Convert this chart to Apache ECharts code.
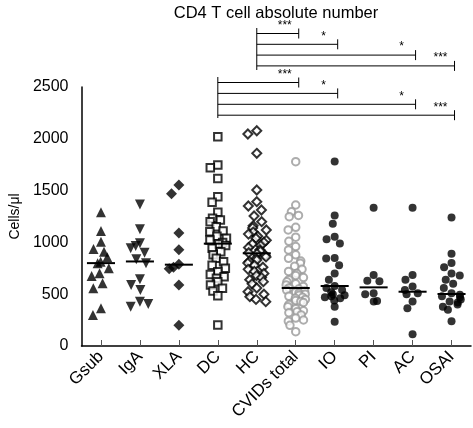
<!DOCTYPE html>
<html><head><meta charset="utf-8">
<script src="https://cdn.jsdelivr.net/npm/echarts@6/dist/echarts.min.js"></script>
<style>html,body{margin:0;padding:0;background:#fff}#c{width:473px;height:428px}</style>
</head><body><div id="c"></div>
<script>
const categories = ['Gsub','IgA','XLA','DC','HC','CVIDs total','IO','PI','AC','OSAI'];
const yTicks = [0, 500, 1000, 1500, 2000, 2500];

const gsub = [1290, 1110, 1007, 936, 910, 856, 814, 798, 750, 702, 676, 605, 557, 364, 299];
const iga = [1367, 1126, 991, 965, 943, 900, 837, 798, 644, 589, 541, 428, 405, 380];
const xla = [1555, 1470, 1090, 930, 790, 760, 745, 590, 200];
const dc = [2020, 1747, 1721, 1618, 1441, 1387, 1290, 1232, 1216, 1200, 1150, 1110, 1103, 1060, 1040, 1023, 1000, 985, 970, 943, 910, 880, 846, 814, 780, 750, 717, 690, 669, 653, 620, 589, 557, 530, 486, 203];
const hc = [2078, 2046, 1860, 1506, 1393, 1351, 1313, 1255, 1200, 1160, 1140, 1120, 1100, 1080, 1060, 1040, 1020, 1000, 985, 970, 950, 930, 915, 900, 890, 875, 860, 845, 830, 815, 800, 780, 760, 740, 720, 700, 680, 660, 640, 621, 600, 560, 524, 500, 476, 450, 428];
const cvids = [1779, 1361, 1296, 1260, 1248, 1146, 1120, 1050, 1010, 960, 927, 880, 846, 820, 798, 770, 740, 720, 700, 680, 660, 640, 620, 600, 590, 575, 560, 550, 540, 530, 520, 510, 500, 490, 480, 470, 460, 450, 440, 430, 420, 400, 380, 360, 340, 331, 320, 300, 270, 251, 240, 200, 138];
const io = [1780, 1260, 1180, 1055, 1030, 990, 850, 845, 780, 700, 640, 580, 560, 540, 520, 500, 490, 480, 470, 460, 440, 380, 235];
const pi = [1335, 685, 630, 625, 510, 500, 435, 430];
const ac = [1335, 685, 640, 575, 540, 510, 500, 430, 365, 113];
const osai = [1240, 890, 800, 760, 700, 680, 640, 600, 560, 510, 495, 480, 470, 450, 430, 420, 400, 380, 350, 240];
const medians = [800, 816, 785, 988, 895, 560, 579, 566, 524, 502];

// significance brackets: [fromCategory, toCategory, label]
const bracketsTop = [['HC','CVIDs total','***'], ['HC','IO','*'], ['HC','AC','*'], ['HC','OSAI','***']];
const bracketsLow = [['DC','CVIDs total','***'], ['DC','IO','*'], ['DC','AC','*'], ['DC','OSAI','***']];

const FONT = 'Liberation Sans, Arial, sans-serif';
const groups = [
  {name:'Gsub', d:gsub, symbol:'triangle', size:10, style:{color:'#000'}},
  {name:'IgA', d:iga, symbol:'triangle', rot:180, size:10, style:{color:'#000'}},
  {name:'XLA', d:xla, symbol:'diamond', size:11, style:{color:'#000'}},
  {name:'DC', d:dc, symbol:'rect', size:7.5, style:{color:'#fff', borderColor:'#000', borderWidth:2}},
  {name:'HC', d:hc, symbol:'diamond', size:9, style:{color:'#fff', borderColor:'#000', borderWidth:2}},
  {name:'CVIDs total', d:cvids, symbol:'circle', size:7.5, style:{color:'#fff', borderColor:'#999', borderWidth:2}},
  {name:'IO', d:io, symbol:'circle', size:8, style:{color:'#000'}},
  {name:'PI', d:pi, symbol:'circle', size:8, style:{color:'#000'}},
  {name:'AC', d:ac, symbol:'circle', size:8, style:{color:'#000'}},
  {name:'OSAI', d:osai, symbol:'circle', size:8, style:{color:'#000'}}
];

const series = groups.map(g => ({
  type:'scatter', name:g.name,
  data: g.d.map(v => [g.name, v]),
  symbol:g.symbol, symbolSize:g.size, symbolRotate:g.rot || 0,
  itemStyle:g.style, z:2, silent:true, animation:false
}));
series.push({
  type:'custom', name:'median', z:5, silent:true, animation:false,
  data: medians.map((m,i)=>[categories[i], m]),
  renderItem:(params, api)=>{
    const p = api.coord([api.value(0), api.value(1)]);
    const w = api.size([1,0])[0]*0.72;
    return {type:'line', shape:{x1:p[0]-w/2, y1:p[1], x2:p[0]+w/2, y2:p[1]}, style:{stroke:'#000', lineWidth:2}};
  }
});

const chart = echarts.init(document.getElementById('c'), null, {renderer:'canvas'});
chart.setOption({
  animation:false,
  backgroundColor:'#fff',
  title:{text:'CD4 T cell absolute number', left:271, top:0, textAlign:'center',
    textStyle:{fontFamily:FONT, fontSize:16.5, fontWeight:'normal', color:'#000'}},
  grid:{left:77, right:2, top:87, bottom:82, containLabel:false},
  xAxis:{type:'category', data:categories, boundaryGap:true,
    jitter:20, jitterOverlap:false, jitterMargin:0.5,
    axisLine:{lineStyle:{color:'#000', width:1.5}},
    axisTick:{show:true, inside:true, length:6, alignWithLabel:true, lineStyle:{color:'#555'}},
    axisLabel:{rotate:45, margin:8, fontFamily:FONT, fontSize:17, color:'#000', interval:0}
  },
  yAxis:{type:'value', min:yTicks[0], max:yTicks[yTicks.length-1], interval:500,
    name:'Cells/μl', nameLocation:'middle', nameGap:56, nameRotate:90,
    nameTextStyle:{fontFamily:FONT, fontSize:14, color:'#000'},
    axisLine:{show:true, lineStyle:{color:'#000', width:1.5}},
    axisTick:{show:false}, splitLine:{show:false},
    axisLabel:{fontFamily:FONT, fontSize:16, color:'#000', margin:13, formatter:(v)=>String(v)}
  },
  series: series
});

function bracketGraphics(list, yStart, step, vTop, vBottom){
  const els = [];
  const x0 = chart.convertToPixel({xAxisIndex:0}, list[0][0]);
  els.push({type:'line', shape:{x1:x0, y1:vTop, x2:x0, y2:vBottom}, style:{stroke:'#000', lineWidth:1}});
  list.forEach((b,i)=>{
    const y = yStart + i*step;
    const x1 = chart.convertToPixel({xAxisIndex:0}, b[1]) + 3;
    els.push({type:'line', shape:{x1:x0, y1:y, x2:x1, y2:y}, style:{stroke:'#000', lineWidth:1}});
    els.push({type:'line', shape:{x1:x1, y1:y-5, x2:x1, y2:y+5}, style:{stroke:'#000', lineWidth:1}});
    els.push({type:'text', x:x1-14, y:y-2, style:{text:b[2], font:'12px '+FONT, fill:'#000', textAlign:'center', textVerticalAlign:'bottom'}});
  });
  return els;
}
const gr = [].concat(
  bracketGraphics(bracketsTop, 33.5, 10.8, 28, 70),
  bracketGraphics(bracketsLow, 82.5, 10.9, 77, 118)
);
chart.setOption({graphic: gr});
</script>
</body></html>
